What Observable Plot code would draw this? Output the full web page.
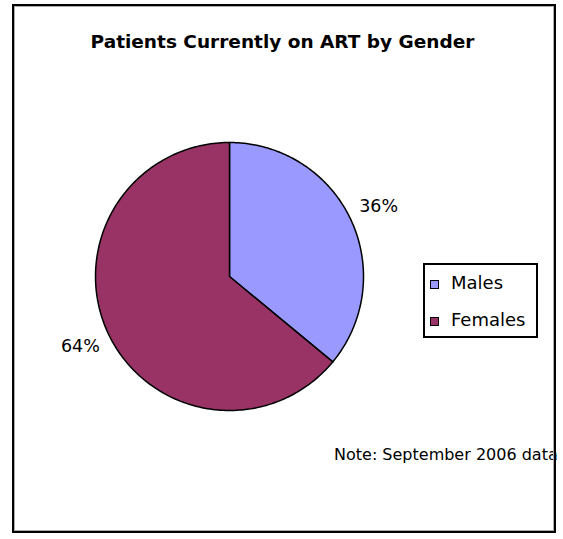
<!DOCTYPE html>
<html>
<head>
<meta charset="utf-8">
<script src="https://cdn.jsdelivr.net/npm/d3@7"></script>
<script src="https://cdn.jsdelivr.net/npm/@observablehq/plot@0.6"></script>
<style>
  html, body { margin: 0; padding: 0; background: #fff; }
  #wrap { position: relative; width: 563px; height: 539px; overflow: hidden; font-family: "DejaVu Sans", sans-serif; color: #000; }
  #chart { position: absolute; left: 0; top: 0; }
  .abs { position: absolute; white-space: nowrap; line-height: 1; }
  #title { left: 282.5px; top: 33.3px; transform: translateX(-50%); font-size: 18.5px; font-weight: bold; }
  #note { left: 334px; top: 446.5px; font-size: 16px; }
  #legend { position: absolute; left: 423px; top: 263px; width: 111px; height: 71px; border: 2px solid #000; box-sizing: content-box; }
  .sw { position: absolute; width: 7px; height: 7px; border: 1px solid #000; }
  .lt { position: absolute; font-size: 18px; line-height: 1; white-space: nowrap; }
  #frame { position: absolute; left: 12px; top: 4px; width: 540px; height: 525px; border: 2px solid #000; box-shadow: inset 1px 1px 0 #aaa, inset -1px -1px 0 #aaa; pointer-events: none; }
</style>
</head>
<body>
<div id="wrap">
  <div id="chart"></div>
  <div id="title" class="abs"></div>
  <div id="note" class="abs"></div>
  <div id="legend"></div>
  <div id="frame"></div>
</div>
<script>
const title = "Patients Currently on ART by Gender";
const note = "Note: September 2006 data";
const genders = ["Males", "Females"];
const percents = [36, 64];
const colors = ["#9999FF", "#993366"];

const arcs = d3.pie().sort(null).value(d => d)(percents);

// polygon outline of each slice, in unit-circle coordinates (y up)
const slicePts = [];
arcs.forEach((a, i) => {
  const n = 200;
  slicePts.push({gender: genders[i], x: 0, y: 0});
  for (let k = 0; k <= n; k++) {
    const t = a.startAngle + (a.endAngle - a.startAngle) * k / n;
    slicePts.push({gender: genders[i], x: Math.sin(t), y: Math.cos(t)});
  }
  slicePts.push({gender: genders[i], x: 0, y: 0});
});

const labelR = 1.23;
const labels = arcs.map((a, i) => {
  const m = (a.startAngle + a.endAngle) / 2;
  return {label: percents[i] + "%", x: labelR * Math.sin(m), y: labelR * Math.cos(m)};
});

const plot = Plot.plot({
  width: 563,
  height: 539,
  marginLeft: 95,
  marginRight: 200,
  marginTop: 142,
  marginBottom: 129,
  x: {domain: [-1, 1], axis: null},
  y: {domain: [-1, 1], axis: null},
  color: {domain: genders, range: colors},
  style: {background: "transparent", fontFamily: "DejaVu Sans, sans-serif"},
  marks: [
    Plot.line(slicePts, {x: "x", y: "y", z: "gender", fill: "gender", stroke: "#000", strokeWidth: 1.5, strokeLinejoin: "round"}),
    Plot.text(labels, {x: "x", y: "y", text: "label", fontSize: 17.5, fill: "#000"})
  ]
});
document.getElementById("chart").appendChild(plot);

document.getElementById("title").textContent = title;
document.getElementById("note").textContent = note;

const legend = document.getElementById("legend");
const rowTops = [15, 52];   // swatch top offsets inside legend box
genders.forEach((g, i) => {
  const sw = document.createElement("div");
  sw.className = "sw";
  sw.style.left = "5px";
  sw.style.top = rowTops[i] + "px";
  sw.style.background = colors[i];
  legend.appendChild(sw);
  const t = document.createElement("div");
  t.className = "lt";
  t.style.left = "26px";
  t.style.top = (rowTops[i] - 6.5) + "px";
  t.textContent = g;
  legend.appendChild(t);
});
</script>
</body>
</html>
